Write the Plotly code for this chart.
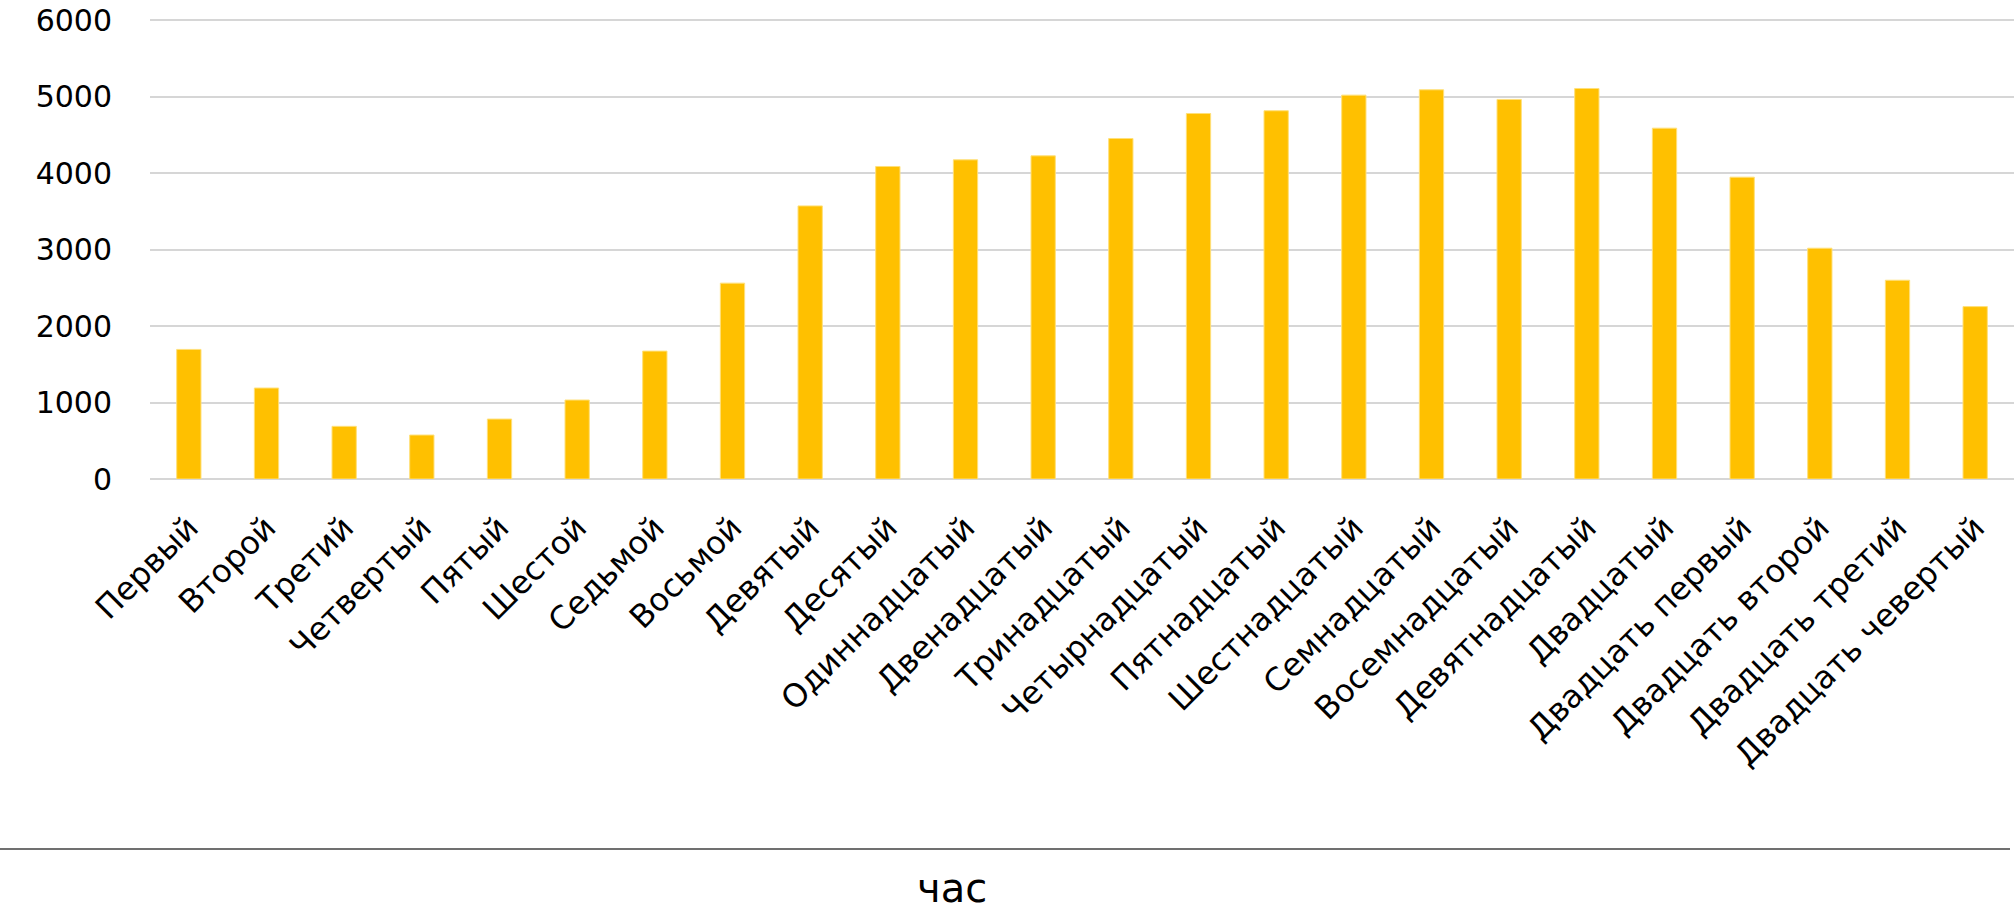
import plotly.graph_objects as go

# Hours of the day (ordinal names) and the count recorded for each
hours = [
    "Первый", "Второй", "Третий", "Четвертый", "Пятый", "Шестой",
    "Седьмой", "Восьмой", "Девятый", "Десятый", "Одиннадцатый", "Двенадцатый",
    "Тринадцатый", "Четырнадцатый", "Пятнадцатый", "Шестнадцатый", "Семнадцатый",
    "Восемнадцатый", "Девятнадцатый", "Двадцатый", "Двадцать первый",
    "Двадцать второй", "Двадцать третий", "Двадцать чевертый",
]
counts = [
    1695, 1190, 689, 575, 784, 1033,
    1673, 2562, 3572, 4088, 4175, 4227,
    4454, 4781, 4817, 5021, 5091,
    4965, 5108, 4589, 3948,
    3019, 2600, 2255,
]
y_ticks = [0, 1000, 2000, 3000, 4000, 5000, 6000]
x_title = "час"

W, H = 2016, 914
L, R, T, B = 150, 2, 18, 435
FONT = "DejaVu Sans"
Y_MAX = 6030  # a touch of headroom so the 6000 line and label are kept

fig = go.Figure(
    go.Bar(
        x=hours,
        y=counts,
        marker=dict(color="#FFC000", line=dict(color="#FFE07A", width=1)),
    )
)

plot_w = W - L - R
plot_h = H - T - B

fig.update_layout(
    width=W,
    height=H,
    margin=dict(l=L, r=R, t=T, b=B, autoexpand=False),
    paper_bgcolor="white",
    plot_bgcolor="white",
    bargap=0.687,
    showlegend=False,
    font=dict(family=FONT, color="#000000", size=31),
    xaxis=dict(
        type="category",
        tickangle=-45,
        tickfont=dict(family=FONT, size=32, color="#000000"),
        showgrid=False,
        showline=False,
        zeroline=False,
        ticks="outside",
        ticklen=16,
        tickcolor="rgba(0,0,0,0)",
        automargin=False,
    ),
    yaxis=dict(
        range=[0, Y_MAX],
        tickvals=y_ticks,
        tickfont=dict(family=FONT, size=30, color="#000000"),
        showgrid=True,
        gridcolor="#D6D6D6",
        gridwidth=1.5,
        zeroline=True,
        zerolinecolor="#D6D6D6",
        zerolinewidth=1.5,
        showline=False,
        ticks="outside",
        ticklen=31,
        tickcolor="rgba(0,0,0,0)",
        automargin=False,
    ),
)

# Separator rule under the category labels, spanning the full width
line_y = (T + plot_h - 849) / plot_h
fig.add_shape(
    type="line",
    xref="paper",
    yref="paper",
    x0=(0 - L) / plot_w,
    x1=(2010 - L) / plot_w,
    y0=line_y,
    y1=line_y,
    line=dict(color="#404040", width=1.5),
)

# Axis title placed below the rule
fig.add_annotation(
    text=x_title,
    xref="paper",
    yref="paper",
    x=(952 - L) / plot_w,
    y=(T + plot_h - 888) / plot_h,
    xanchor="center",
    yanchor="middle",
    showarrow=False,
    font=dict(family=FONT, size=40, color="#000000"),
)

fig.write_html("out.html")
